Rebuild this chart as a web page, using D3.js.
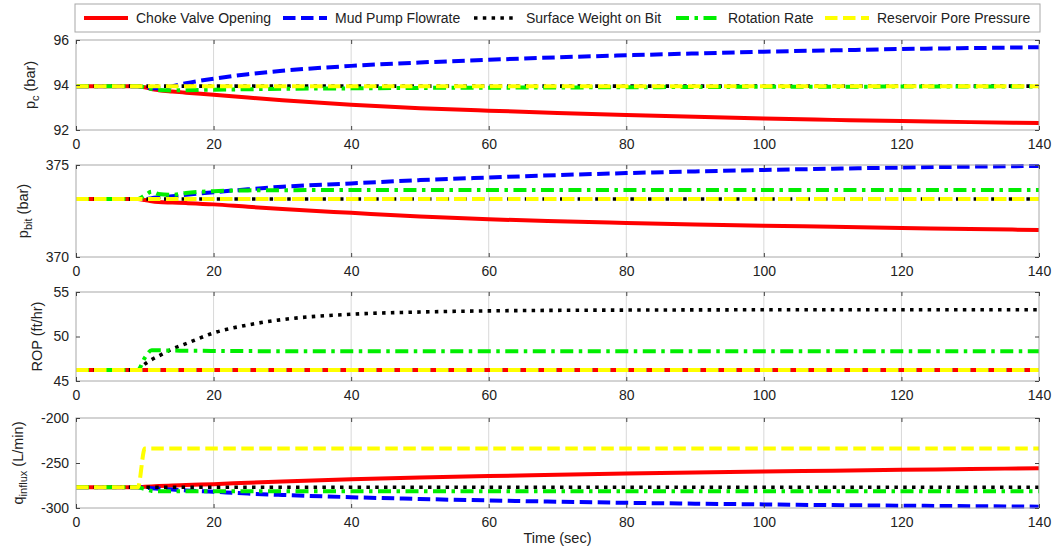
<!DOCTYPE html>
<head>
  <meta charset="utf-8">
  <script src="https://d3js.org/d3.v7.min.js"></script>
  <style>
  body { margin: 0; background: #fff; }
  #chart text {
    font-family: "Liberation Sans", Arial, sans-serif;
    fill: #222;
  }
  </style>
</head>

<body>
  <svg id="chart"></svg>
  <script>

    // time axis (sec)
    var time = [0, 9, 10, 11, 12, 14, 16, 20, 25, 30, 40, 50, 60, 70, 80, 90, 100, 110, 120, 130, 140];
    var xTicks = [0, 20, 40, 60, 80, 100, 120, 140];

    var seriesNames = ["Choke Valve Opening", "Mud Pump Flowrate", "Surface Weight on Bit", "Rotation Rate", "Reservoir Pore Pressure"];

    // panel 1: p_c (bar)
    var pcChoke = [93.95, 93.95, 93.9, 93.82, 93.77, 93.71, 93.66, 93.57, 93.44, 93.32, 93.12, 92.97, 92.86, 92.76, 92.67, 92.59, 92.51, 92.45, 92.4, 92.35, 92.31];
    var pcPump = [93.95, 93.95, 93.9, 93.86, 93.86, 93.95, 94.08, 94.28, 94.48, 94.63, 94.85, 95.0, 95.12, 95.23, 95.32, 95.4, 95.48, 95.54, 95.6, 95.64, 95.68];
    var pcWob = [93.95, 93.95, 93.95, 93.95, 93.95, 93.95, 93.95, 93.95, 93.95, 93.95, 93.95, 93.95, 93.95, 93.95, 93.95, 93.95, 93.95, 93.95, 93.95, 93.95, 93.95];
    var pcRot = [93.95, 93.95, 93.9, 93.82, 93.78, 93.76, 93.77, 93.79, 93.81, 93.83, 93.85, 93.87, 93.88, 93.89, 93.9, 93.91, 93.92, 93.92, 93.93, 93.93, 93.93];
    var pcRes = [93.95, 93.95, 93.95, 93.95, 93.95, 93.95, 93.95, 93.95, 93.95, 93.95, 93.95, 93.95, 93.95, 93.95, 93.95, 93.95, 93.95, 93.95, 93.95, 93.95, 93.95];

    // panel 2: p_bit (bar)
    var pbChoke = [373.15, 373.15, 373.1, 373.03, 372.99, 372.96, 372.93, 372.86, 372.73, 372.61, 372.4, 372.2, 372.05, 371.94, 371.85, 371.77, 371.7, 371.64, 371.58, 371.52, 371.47];
    var pbPump = [373.15, 373.15, 373.15, 373.2, 373.25, 373.3, 373.38, 373.52, 373.68, 373.82, 374.0, 374.18, 374.32, 374.45, 374.56, 374.65, 374.73, 374.8, 374.86, 374.91, 374.95];
    var pbWob = [373.15, 373.15, 373.15, 373.15, 373.15, 373.15, 373.15, 373.15, 373.15, 373.15, 373.15, 373.15, 373.15, 373.15, 373.15, 373.15, 373.15, 373.15, 373.15, 373.15, 373.15];
    var pbRot = [373.15, 373.15, 373.35, 373.55, 373.42, 373.38, 373.48, 373.58, 373.62, 373.63, 373.64, 373.64, 373.64, 373.64, 373.64, 373.64, 373.64, 373.64, 373.64, 373.64, 373.64];
    var pbRes = [373.15, 373.15, 373.15, 373.15, 373.15, 373.15, 373.15, 373.15, 373.15, 373.15, 373.15, 373.15, 373.15, 373.15, 373.15, 373.15, 373.15, 373.15, 373.15, 373.15, 373.15];

    // panel 3: ROP (ft/hr)
    var ropChoke = [46.25, 46.25, 46.25, 46.25, 46.25, 46.25, 46.25, 46.25, 46.25, 46.25, 46.25, 46.25, 46.25, 46.25, 46.25, 46.25, 46.25, 46.25, 46.25, 46.25, 46.25];
    var ropPump = [46.25, 46.25, 46.25, 46.25, 46.25, 46.25, 46.25, 46.25, 46.25, 46.25, 46.25, 46.25, 46.25, 46.25, 46.25, 46.25, 46.25, 46.25, 46.25, 46.25, 46.25];
    var ropWob = [46.25, 46.25, 46.9, 47.4, 47.8, 48.6, 49.2, 50.4, 51.3, 51.9, 52.5, 52.75, 52.88, 52.94, 52.97, 52.99, 53.0, 53.0, 53.0, 53.0, 53.0];
    var ropRot = [46.25, 46.25, 47.6, 48.45, 48.45, 48.42, 48.4, 48.38, 48.36, 48.35, 48.35, 48.35, 48.35, 48.35, 48.35, 48.35, 48.35, 48.35, 48.35, 48.35, 48.35];
    var ropRes = [46.25, 46.25, 46.25, 46.25, 46.25, 46.25, 46.25, 46.25, 46.25, 46.25, 46.25, 46.25, 46.25, 46.25, 46.25, 46.25, 46.25, 46.25, 46.25, 46.25, 46.25];

    // panel 4: q_influx (L/min)
    var qChoke = [-277, -277, -276.5, -276, -275.6, -275, -274.5, -273.5, -272, -270.5, -268, -266, -264.5, -263, -261.6, -260.5, -259.5, -258.5, -257.6, -256.7, -255.8];
    var qPump = [-277, -277, -277.5, -278, -278.5, -279.5, -280.5, -282, -284, -285.5, -288, -290, -291.6, -293, -294.2, -295.2, -296, -296.8, -297.4, -298, -298.5];
    var qWob = [-277, -277, -277, -277, -277, -277, -277, -277, -277, -277, -277, -277, -277, -277, -277, -277, -277, -277, -277, -277, -277];
    var qRot = [-277, -277, -279, -281, -281.5, -281.5, -281.5, -281.5, -281.5, -281.5, -281.5, -281.5, -281.5, -281.5, -281.5, -281.5, -281.5, -281.5, -281.5, -281.5, -281.5];
    var qRes = [-277, -277, -234, -234, -234, -234, -234, -234, -234, -234, -234, -234, -234, -234, -234, -234, -234, -234, -234, -234, -234];

    var pcTicks = [92, 94, 96];
    var pbTicks = [370, 375];
    var ropTicks = [45, 50, 55];
    var qTicks = [-300, -250, -200];

    var width = 1052,
        height = 550,
        left = 76,
        right = 1039;

    var colors = ["#ff0000", "#0000ff", "#000000", "#00ee00", "#ffff00"];
    var dashes = [null, "12.5,5.5", "3.5,5.3", "13,5.5,3.5,5.5", "12.5,5.5"];
    var widths = [4, 4, 3.6, 4, 4];

    var panels = [
      { top: 40, bottom: 130, domain: [92, 96], ticks: pcTicks, series: [pcChoke, pcPump, pcWob, pcRot, pcRes], label: ["p", "c", " (bar)"], labelX: 35 },
      { top: 165, bottom: 257, domain: [370, 375], ticks: pbTicks, series: [pbChoke, pbPump, pbWob, pbRot, pbRes], label: ["p", "bit", " (bar)"], labelX: 28 },
      { top: 292, bottom: 381, domain: [45, 55], ticks: ropTicks, series: [ropChoke, ropPump, ropWob, ropRot, ropRes], label: ["ROP  (ft/hr)", "", ""], labelX: 42 },
      { top: 418, bottom: 508, domain: [-300, -200], ticks: qTicks, series: [qChoke, qPump, qWob, qRot, qRes], label: ["q", "influx", "  (L/min)"], labelX: 23 }
    ];

    var fmt = function(d) { return String(d); };

    var x = d3.scaleLinear()
        .domain([0, 140])
        .range([left, right]);

    var chart = d3.select('#chart')
        .attr('width', width)
        .attr('height', height);

    panels.forEach(function(p, pi) {
      var y = d3.scaleLinear()
          .domain(p.domain)
          .range([p.bottom, p.top]);

      var g = chart.append('g');

      g.append('rect')
          .attr('x', left)
          .attr('y', p.top)
          .attr('width', right - left)
          .attr('height', p.bottom - p.top)
          .attr('fill', '#fff');

      // vertical grid
      g.selectAll('.grid')
          .data(xTicks.slice(1, -1))
        .enter().append('line')
          .attr('x1', x).attr('x2', x)
          .attr('y1', p.top).attr('y2', p.bottom)
          .attr('stroke', '#d8d8d8')
          .attr('stroke-width', 1);

      var clipId = 'clip' + pi;
      chart.append('clipPath').attr('id', clipId)
        .append('rect')
          .attr('x', left).attr('y', p.top - 3)
          .attr('width', right - left + 1).attr('height', p.bottom - p.top + 6);

      var line = d3.line()
          .x(function(d, i) { return x(time[i]); })
          .y(function(d) { return y(d); })
          .curve(d3.curveMonotoneX);

      g.append('g').attr('clip-path', 'url(#' + clipId + ')')
        .selectAll('path')
          .data(p.series)
        .enter().append('path')
          .attr('d', line)
          .attr('fill', 'none')
          .attr('stroke', function(d, i) { return colors[i]; })
          .attr('stroke-width', function(d, i) { return widths[i]; })
          .attr('stroke-dasharray', function(d, i) { return dashes[i]; });

      // box
      g.append('rect')
          .attr('x', left)
          .attr('y', p.top)
          .attr('width', right - left)
          .attr('height', p.bottom - p.top)
          .attr('fill', 'none')
          .attr('stroke', '#a8a8a8')
          .attr('stroke-width', 1);

      // ticks (inward)
      var xAxisB = d3.axisBottom(x).tickValues(xTicks).tickFormat(fmt).tickSizeInner(-4).tickSizeOuter(0);
      var gx = g.append('g')
          .attr('transform', 'translate(0,' + p.bottom + ')')
          .call(xAxisB);
      gx.select('.domain').remove();
      gx.selectAll('line').attr('stroke', '#444');
      gx.selectAll('text').attr('font-size', 14).attr('fill', '#222').attr('y', 9);

      var xAxisT = d3.axisTop(x).tickValues(xTicks).tickSizeInner(-4).tickSizeOuter(0).tickFormat('');
      var gxt = g.append('g')
          .attr('transform', 'translate(0,' + p.top + ')')
          .call(xAxisT);
      gxt.select('.domain').remove();
      gxt.selectAll('line').attr('stroke', '#444');

      var yAxisL = d3.axisLeft(y).tickValues(p.ticks).tickFormat(fmt).tickSizeInner(-4).tickSizeOuter(0).tickPadding(7);
      var gy = g.append('g')
          .attr('transform', 'translate(' + left + ',0)')
          .call(yAxisL);
      gy.select('.domain').remove();
      gy.selectAll('line').attr('stroke', '#444');
      gy.selectAll('text').attr('font-size', 14).attr('fill', '#222');

      var yAxisR = d3.axisRight(y).tickValues(p.ticks).tickSizeInner(-4).tickSizeOuter(0).tickFormat('');
      var gyr = g.append('g')
          .attr('transform', 'translate(' + right + ',0)')
          .call(yAxisR);
      gyr.select('.domain').remove();
      gyr.selectAll('line').attr('stroke', '#444');

      // y label
      var lab = g.append('text')
          .attr('transform', 'translate(' + p.labelX + ',' + ((p.top + p.bottom) / 2) + ') rotate(-90)')
          .attr('text-anchor', 'middle')
          .attr('font-size', 14.5);
      lab.append('tspan').text(p.label[0]);
      if (p.label[1]) {
        lab.append('tspan').attr('dy', 4).attr('font-size', 11).text(p.label[1]);
        lab.append('tspan').attr('dy', -4).text(p.label[2]);
      }
    });

    chart.append('text')
        .attr('x', (left + right) / 2)
        .attr('y', 543)
        .attr('text-anchor', 'middle')
        .attr('font-size', 14.5)
        .text('Time (sec)');

    // legend
    var legendX = [84, 283, 474, 676, 825];
    chart.append('rect')
        .attr('x', 75).attr('y', 4)
        .attr('width', 965).attr('height', 28)
        .attr('fill', '#fff')
        .attr('stroke', '#a8a8a8');

    var item = chart.selectAll('.legend')
        .data(seriesNames)
      .enter().append('g')
        .attr('transform', function(d, i) { return 'translate(' + legendX[i] + ',18)'; });

    item.append('line')
        .attr('x1', 0).attr('x2', 44)
        .attr('stroke', function(d, i) { return colors[i]; })
        .attr('stroke-width', function(d, i) { return widths[i]; })
        .attr('stroke-dasharray', function(d, i) { return dashes[i]; });

    item.append('text')
        .attr('x', 52)
        .attr('y', 5)
        .attr('font-size', 14)
        .text(function(d) { return d; });

  </script>
</body>
